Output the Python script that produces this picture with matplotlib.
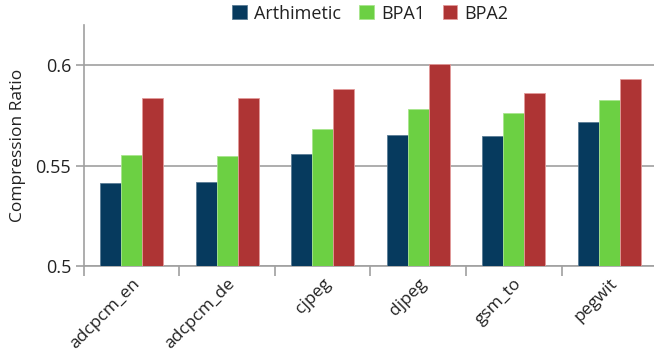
import matplotlib
matplotlib.use("Agg")
import matplotlib.pyplot as plt
import matplotlib.transforms as mtransforms
import numpy as np

categories = ["adcpcm_en", "adcpcm_de", "cjpeg", "djpeg", "gsm_to", "pegwit"]
arithmetic = [0.5415, 0.542, 0.5558, 0.5652, 0.5645, 0.5715]
bpa1 = [0.5553, 0.555, 0.5682, 0.5782, 0.576, 0.5828]
bpa2 = [0.5838, 0.5838, 0.5882, 0.6008, 0.586, 0.593]
series_names = ["Arthimetic", "BPA1", "BPA2"]
colors = ["#063A5E", "#6CD043", "#AE3434"]
edges = ["#5A7C95", "#A8E58E", "#E39A9A"]

plt.rcParams['font.family'] = ['Open Sans', 'DejaVu Sans']

fig = plt.figure(figsize=(6.54, 3.54), dpi=100)
ax = fig.add_axes([0.128, 0.249, 0.877, 0.68])

x = np.arange(len(categories))
w = 0.22
for i, (vals, name) in enumerate(zip([arithmetic, bpa1, bpa2], series_names)):
    ax.bar(x + (i - 1) * w, vals, width=w, color=colors[i], edgecolor=edges[i],
           linewidth=0.6, label=name, zorder=3)

ax.set_xlim(-0.5, len(categories) - 0.5)
ax.set_ylim(0.5, 0.62)
ax.set_yticks([0.5, 0.55, 0.6])
ax.set_yticklabels(["0.5", "0.55", "0.6"])
ax.yaxis.grid(True, color="#A0A0A0", linewidth=1.2, zorder=0)
ax.set_xticks(x)
ax.set_xticklabels(categories, rotation=45, ha="right", rotation_mode="anchor", fontsize=12.5, color="#222222")
offset = mtransforms.ScaledTranslation(-4 / 100, 0, fig.dpi_scale_trans)
for lab in ax.get_xticklabels():
    lab.set_transform(lab.get_transform() + offset)
ax.set_xticks(np.arange(len(categories) + 1) - 0.5, minor=True)
ax.tick_params(axis="x", which="major", length=0, pad=7)
ax.tick_params(axis="x", which="minor", length=7, color="#A0A0A0", width=1.2)
ax.tick_params(axis="y", length=6, color="#A0A0A0", width=1.2, labelsize=13, labelcolor="#222222", pad=3)

for s in ["top", "right"]:
    ax.spines[s].set_visible(False)
for s in ["left", "bottom"]:
    ax.spines[s].set_color("#A0A0A0")
    ax.spines[s].set_linewidth(1.2)

ax.set_ylabel("Compression Ratio", fontsize=12.5, color="#222222", labelpad=7)

leg = ax.legend(loc="upper center", bbox_to_anchor=(0.5, 1.115), ncol=3, frameon=False,
                fontsize=13, handlelength=0.8, handleheight=0.8, handletextpad=0.4,
                columnspacing=1.0, borderaxespad=0)
for t in leg.get_texts():
    t.set_color("#222222")

fig.savefig("out.png", dpi=100)
